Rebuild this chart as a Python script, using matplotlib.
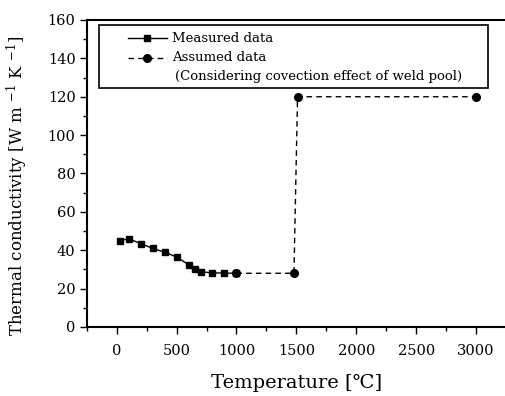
import numpy as np
import matplotlib
matplotlib.use("Agg")
import matplotlib.pyplot as plt
from matplotlib.lines import Line2D
from matplotlib.patches import Rectangle
from matplotlib.ticker import MultipleLocator

plt.rcParams['font.family'] = ['DejaVu Serif', 'Noto Sans CJK KR']
plt.rcParams['mathtext.fontset'] = 'dejavuserif'

# measured thermal conductivity
measured_temp = [25, 100, 200, 300, 400, 500, 600, 650, 700, 800, 900, 1000]
measured_k = [45, 46, 43.5, 41, 39, 36.5, 32.5, 30, 28.8, 28.2, 28.1, 28]

# assumed values above melting (convection in the weld pool)
assumed_temp = [1000, 1480, 1510, 3000]
assumed_k = [28, 28, 120, 120]

fig = plt.figure(figsize=(5.06, 3.96), dpi=100)
ax = fig.add_axes([86.7 / 506, 69 / 396, 1 - 86.7 / 506, (327 - 20) / 396])

ax.plot(assumed_temp, assumed_k, color='black', linestyle=(0, (4, 3)),
        linewidth=1.0, marker='o', markersize=5.5, zorder=2)
ax.plot(measured_temp, measured_k, color='black', linestyle='-',
        linewidth=1.0, marker='s', markersize=5, zorder=3)

ax.set_xlim(-250, 3250)
ax.set_ylim(0, 160)
ax.xaxis.set_major_locator(MultipleLocator(500))
ax.xaxis.set_minor_locator(MultipleLocator(250))
ax.yaxis.set_major_locator(MultipleLocator(20))
ax.yaxis.set_minor_locator(MultipleLocator(10))
ax.tick_params(which='major', direction='out', length=5, width=1,
               labelsize=10.5, pad=3)
ax.tick_params(which='minor', direction='out', length=3, width=1)
ax.tick_params(axis='x', pad=7)
for side in ['left', 'bottom', 'top']:
    ax.spines[side].set_linewidth(1.5)
ax.spines['right'].set_visible(False)

ax.set_xlabel('Temperature [\u2103]', fontsize=14, labelpad=12)
ax.set_ylabel('Thermal conductivity [W m $^{-1}$ K $^{-1}$]', fontsize=12,
              labelpad=4)
ax.yaxis.set_label_coords(-0.135, 0.46)

# legend box drawn by hand to keep the layout of the original
tr = ax.transAxes
def fx(px):
    return (px - 86.7) / (506 - 86.7)
def fy(py):
    return (327 - py) / 307.0

ax.add_patch(Rectangle((fx(99), fy(88)), fx(488) - fx(99), fy(25) - fy(88),
                       transform=tr, fill=True, facecolor='white',
                       edgecolor='black', linewidth=1.2, zorder=5))
ax.add_line(Line2D([fx(128), fx(167)], [fy(38.5)] * 2, transform=tr,
                   color='black', linewidth=1.0, zorder=6))
ax.add_line(Line2D([fx(147.5)], [fy(38.5)], transform=tr, marker='s',
                   markersize=5, color='black', zorder=6))
ax.add_line(Line2D([fx(128), fx(167)], [fy(57.7)] * 2, transform=tr,
                   color='black', linewidth=1.0, linestyle=(0, (4, 3)),
                   zorder=6))
ax.add_line(Line2D([fx(147.5)], [fy(57.7)], transform=tr, marker='o',
                   markersize=5.5, color='black', zorder=6))
ax.text(fx(172), fy(38.5), 'Measured data', transform=tr, fontsize=9.5,
        va='center', ha='left', zorder=7)
ax.text(fx(172), fy(57.7), 'Assumed data', transform=tr, fontsize=9.5,
        va='center', ha='left', zorder=7)
ax.text(fx(175.5), fy(76.7), '(Considering covection effect of weld pool)',
        transform=tr, fontsize=9.5, va='center', ha='left', zorder=7)

fig.savefig('out.png', dpi=100)
